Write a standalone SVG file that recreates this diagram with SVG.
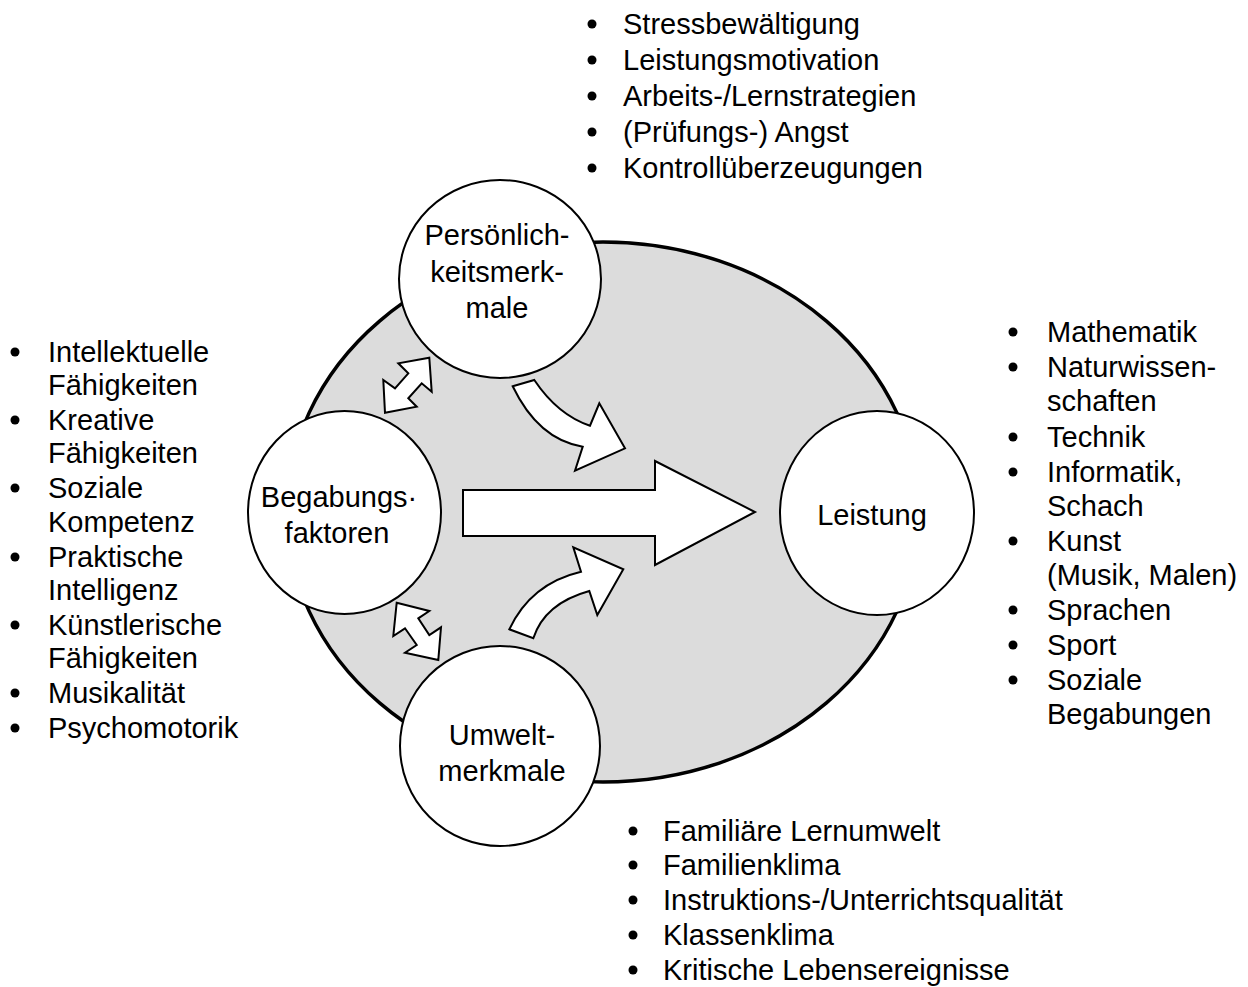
<svg xmlns="http://www.w3.org/2000/svg" width="1248" height="987" viewBox="0 0 1248 987">
<style>
text{font-family:"Liberation Sans",Arial,sans-serif;font-size:29px;fill:#000}
.node{fill:#fff;stroke:#000;stroke-width:2}
.arr{fill:#fff;stroke:#000;stroke-width:2;stroke-linejoin:miter}
.c{text-anchor:middle}
.b{fill:#000}
</style>
<rect width="1248" height="987" fill="#fff"/>
<ellipse id="background" cx="603" cy="512" rx="316" ry="270" fill="#dcdcdc" stroke="#000" stroke-width="3.5"/>
<g id="connectors">
<polygon class="arr" points="463,490 655,490 655,461 755,512 655,565 655,536 463,536"/>
<path class="arr" d="M512.7,386.3 L534.3,380 Q557.8,415 590,425.7 L599.3,403.3 L625,448.3 L575,470.7 L582.7,446.7 Q538.3,439.5 512.7,386.3 Z"/>
<path class="arr" d="M509.3,629.3 Q530.8,583.5 581,571.7 L573.3,547.3 L623.3,569.3 L597.3,615 L589.3,591 Q544.7,603.3 533.3,638.3 Z"/>
<polygon class="arr" points="429.3,357.7 431.7,391.7 421.7,383.3 408.3,398.3 416.7,406.7 385,412.7 383.3,380 395,388.3 408.3,373.3 398.3,363.3"/>
<polygon class="arr" points="396.7,602.7 429.3,611 418.3,618.3 429.3,635 441,627.3 438.3,660 405,652.7 416.7,645 405,628.3 393.3,636"/>
</g>
<g id="node-persoenlichkeit">
<ellipse class="node" cx="500" cy="279" rx="101" ry="99"/>
<text class="c" x="497" y="245">Persönlich-</text>
<text class="c" x="497" y="282">keitsmerk-</text>
<text class="c" x="497" y="318">male</text>
</g>
<g id="node-begabung">
<ellipse class="node" cx="344.5" cy="512.5" rx="96.5" ry="101.5"/>
<text class="c" x="339" y="507">Begabungs·</text>
<text class="c" x="337" y="543">faktoren</text>
</g>
<g id="node-umwelt">
<ellipse class="node" cx="500" cy="746" rx="100" ry="100"/>
<text class="c" x="502" y="745">Umwelt-</text>
<text class="c" x="502" y="781">merkmale</text>
</g>
<g id="node-leistung">
<ellipse class="node" cx="877" cy="513" rx="97" ry="102"/>
<text class="c" x="872" y="525">Leistung</text>
</g>
<g id="list-persoenlichkeit">
<circle class="b" cx="592" cy="24" r="4.5"/><text x="623" y="34">Stressbewältigung</text>
<circle class="b" cx="592" cy="60" r="4.5"/><text x="623" y="70">Leistungsmotivation</text>
<circle class="b" cx="592" cy="96" r="4.5"/><text x="623" y="106">Arbeits-/Lernstrategien</text>
<circle class="b" cx="592" cy="132" r="4.5"/><text x="623" y="142">(Prüfungs-) Angst</text>
<circle class="b" cx="592" cy="168" r="4.5"/><text x="623" y="178">Kontrollüberzeugungen</text>
</g>
<g id="list-begabung">
<circle class="b" cx="15" cy="352" r="4.5"/><text x="48" y="362">Intellektuelle</text>
<text x="48" y="395">Fähigkeiten</text>
<circle class="b" cx="15" cy="420" r="4.5"/><text x="48" y="430">Kreative</text>
<text x="48" y="463">Fähigkeiten</text>
<circle class="b" cx="15" cy="488" r="4.5"/><text x="48" y="498">Soziale</text>
<text x="48" y="532">Kompetenz</text>
<circle class="b" cx="15" cy="557" r="4.5"/><text x="48" y="567">Praktische</text>
<text x="48" y="600">Intelligenz</text>
<circle class="b" cx="15" cy="625" r="4.5"/><text x="48" y="635">Künstlerische</text>
<text x="48" y="668">Fähigkeiten</text>
<circle class="b" cx="15" cy="693" r="4.5"/><text x="48" y="703">Musikalität</text>
<circle class="b" cx="15" cy="728" r="4.5"/><text x="48" y="738">Psychomotorik</text>
</g>
<g id="list-leistung">
<circle class="b" cx="1013" cy="332" r="4.5"/><text x="1047" y="342">Mathematik</text>
<circle class="b" cx="1013" cy="367" r="4.5"/><text x="1047" y="377">Naturwissen-</text>
<text x="1047" y="411">schaften</text>
<circle class="b" cx="1013" cy="437" r="4.5"/><text x="1047" y="447">Technik</text>
<circle class="b" cx="1013" cy="472" r="4.5"/><text x="1047" y="482">Informatik,</text>
<text x="1047" y="516">Schach</text>
<circle class="b" cx="1013" cy="541" r="4.5"/><text x="1047" y="551">Kunst</text>
<text x="1047" y="585">(Musik, Malen)</text>
<circle class="b" cx="1013" cy="610" r="4.5"/><text x="1047" y="620">Sprachen</text>
<circle class="b" cx="1013" cy="645" r="4.5"/><text x="1047" y="655">Sport</text>
<circle class="b" cx="1013" cy="680" r="4.5"/><text x="1047" y="690">Soziale</text>
<text x="1047" y="724">Begabungen</text>
</g>
<g id="list-umwelt">
<circle class="b" cx="633" cy="831" r="4.5"/><text x="663" y="841">Familiäre Lernumwelt</text>
<circle class="b" cx="633" cy="865" r="4.5"/><text x="663" y="875">Familienklima</text>
<circle class="b" cx="633" cy="900" r="4.5"/><text x="663" y="910">Instruktions-/Unterrichtsqualität</text>
<circle class="b" cx="633" cy="935" r="4.5"/><text x="663" y="945">Klassenklima</text>
<circle class="b" cx="633" cy="970" r="4.5"/><text x="663" y="980">Kritische Lebensereignisse</text>
</g>
</svg>
